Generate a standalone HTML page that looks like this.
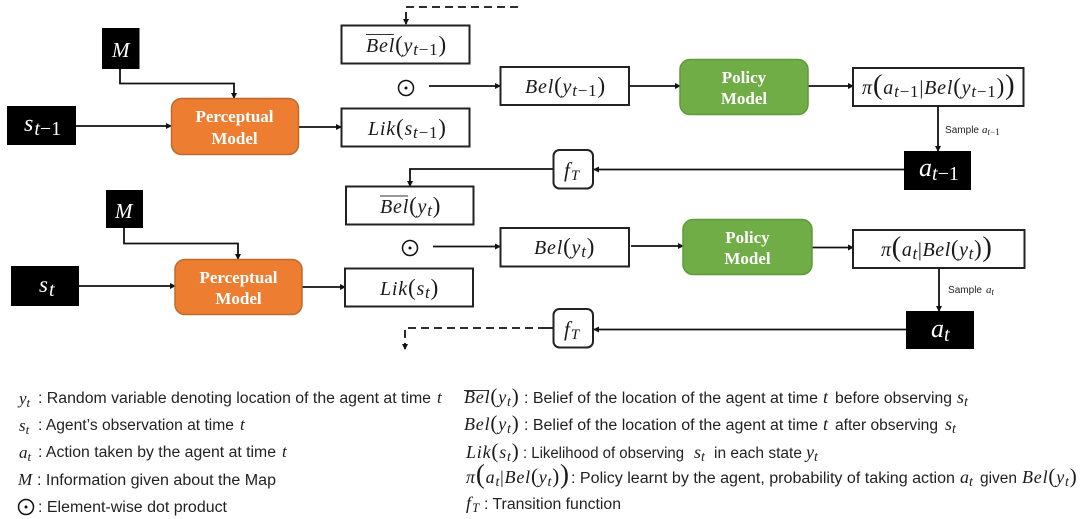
<!DOCTYPE html>
<html><head><meta charset="utf-8"><style>
html,body{margin:0;padding:0;background:#fff;width:1080px;height:519px;overflow:hidden}
svg{display:block;filter:blur(.35px)}
.m{font-family:"Liberation Serif",serif;font-style:italic;fill:#1a1a1a}
.w{fill:#fff}
.t{font-family:"Liberation Sans",sans-serif;font-size:15.5px;fill:#222}
.b{font-family:"Liberation Serif",serif;font-weight:bold;font-size:17px;fill:#fff;text-anchor:middle}
.n{font-style:normal}
.box{fill:#fff;stroke:#222;stroke-width:2}
.ln{fill:none;stroke:#111;stroke-width:1.8}
</style></head><body>
<svg width="1080" height="519" viewBox="0 0 1080 519" xmlns="http://www.w3.org/2000/svg">
<defs><marker id="a" markerWidth="6" markerHeight="6" refX="5" refY="3" orient="auto" markerUnits="userSpaceOnUse"><path d="M0 0L6 3L0 6Z" fill="#111"/></marker></defs>
<rect width="1080" height="519" fill="#fff"/>

<!-- connectors -->
<path class="ln" stroke-dasharray="8 5" d="M518 7H406V20"/>
<path class="ln" marker-end="url(#a)" d="M406 19V24"/>
<path class="ln" marker-end="url(#a)" d="M120 69V83.500H234V98"/>
<path class="ln" marker-end="url(#a)" d="M76 126H171"/>
<path class="ln" marker-end="url(#a)" d="M298 127H341"/>
<path class="ln" marker-end="url(#a)" d="M429 86H500"/>
<path class="ln" marker-end="url(#a)" d="M629 86H680"/>
<path class="ln" marker-end="url(#a)" d="M808 86H853"/>
<path class="ln" marker-end="url(#a)" d="M938 106V151"/>
<path class="ln" marker-end="url(#a)" d="M904 169.500H594"/>
<path class="ln" marker-end="url(#a)" d="M553 169H410V186"/>

<path class="ln" marker-end="url(#a)" d="M124 228V243.500H238V259"/>
<path class="ln" marker-end="url(#a)" d="M79 286H175"/>
<path class="ln" marker-end="url(#a)" d="M302 287H345"/>
<path class="ln" marker-end="url(#a)" d="M433 246.500H500"/>
<path class="ln" marker-end="url(#a)" d="M631 246H683"/>
<path class="ln" marker-end="url(#a)" d="M812 247.500H853"/>
<path class="ln" marker-end="url(#a)" d="M939 269V311"/>
<path class="ln" marker-end="url(#a)" d="M906 329.500H594"/>
<path class="ln" stroke-dasharray="8 5" d="M546 328H405V342"/>
<path class="ln" d="M546 328H553"/>
<path class="ln" marker-end="url(#a)" d="M405 343V349"/>

<!-- black boxes -->
<rect x="102" y="28" width="37.500" height="41" fill="#000"/>
<rect x="7" y="106" width="69" height="39" fill="#000"/>
<rect x="904" y="151" width="67" height="39" fill="#000"/>
<rect x="106" y="190" width="37" height="38" fill="#000"/>
<rect x="11" y="266" width="68" height="40" fill="#000"/>
<rect x="906" y="311" width="68" height="38" fill="#000"/>

<text class="m w" x="112" y="57" font-size="21">M</text>
<text class="m w" x="24" y="131" font-size="24">s<tspan dy="4" dx="1" font-size="20">t</tspan><tspan class="n" font-size="20">−1</tspan></text>
<text class="m w" x="919" y="176" font-size="26">a<tspan dy="4" font-size="20">t</tspan><tspan class="n" font-size="20">−1</tspan></text>
<text class="m w" x="115" y="218" font-size="21">M</text>
<text class="m w" x="39" y="292" font-size="23">s<tspan dy="4" dx="1" font-size="20">t</tspan></text>
<text class="m w" x="931" y="337" font-size="26">a<tspan dy="4" font-size="20">t</tspan></text>

<!-- models -->
<rect x="171.500" y="98.500" width="127" height="56" rx="10" fill="#ED7D31" stroke="#BE6A2E" stroke-width="1.500"/>
<text class="b" x="234.500" y="122">Perceptual</text><text class="b" x="234.500" y="144">Model</text>
<rect x="175" y="259.500" width="127" height="55" rx="10" fill="#ED7D31" stroke="#BE6A2E" stroke-width="1.500"/>
<text class="b" x="238.500" y="283">Perceptual</text><text class="b" x="238.500" y="304">Model</text>
<rect x="680" y="59.500" width="128" height="55" rx="10" fill="#70AD47" stroke="#5F9A3C" stroke-width="1.500"/>
<text class="b" x="744" y="83">Policy</text><text class="b" x="744" y="104">Model</text>
<rect x="683" y="219.500" width="129" height="55" rx="10" fill="#70AD47" stroke="#5F9A3C" stroke-width="1.500"/>
<text class="b" x="747.500" y="243">Policy</text><text class="b" x="747.500" y="264">Model</text>

<!-- white boxes -->
<rect class="box" x="341.500" y="25.500" width="128" height="38"/>
<rect class="box" x="341.500" y="108.500" width="128" height="38"/>
<rect class="box" x="500.500" y="67" width="128.500" height="38"/>
<rect class="box" x="853" y="68" width="170.500" height="38"/>
<rect class="box" x="346" y="186.500" width="127.500" height="38"/>
<rect class="box" x="345" y="268.500" width="128" height="38"/>
<rect class="box" x="500.500" y="228" width="128.500" height="38.500"/>
<rect class="box" x="853" y="230" width="171.500" height="38"/>
<rect class="box" x="553.500" y="150" width="39.500" height="38.500" rx="6"/>
<rect class="box" x="553.500" y="309" width="39.500" height="38.500" rx="6"/>

<!-- box labels -->
<path d="M366 34.500H394M380 196H408" stroke="#333" stroke-width="1" fill="none"/>
<text class="m" x="366" y="52" font-size="20" letter-spacing=".8">Bel<tspan class="n" font-size="23">(</tspan>y<tspan dy="3" font-size="17">t</tspan><tspan class="n" font-size="17">−1</tspan><tspan class="n" dy="-3" font-size="23">)</tspan></text>
<text class="m" x="368" y="135" font-size="20" letter-spacing=".8">Lik<tspan class="n" font-size="23">(</tspan>s<tspan dy="3" font-size="17">t</tspan><tspan class="n" font-size="17">−1</tspan><tspan class="n" dy="-3" font-size="23">)</tspan></text>
<text class="m" x="525" y="93" font-size="20" letter-spacing=".8">Bel<tspan class="n" font-size="23">(</tspan>y<tspan dy="3" font-size="17">t</tspan><tspan class="n" font-size="17">−1</tspan><tspan class="n" dy="-3" font-size="23">)</tspan></text>
<text class="m" x="862" y="94" font-size="20" letter-spacing=".8">π<tspan class="n" font-size="29">(</tspan>a<tspan dy="3" font-size="17">t</tspan><tspan class="n" font-size="17">−1</tspan><tspan class="n" dy="-3">|</tspan>Bel<tspan class="n" font-size="23">(</tspan>y<tspan dy="3" font-size="17">t</tspan><tspan class="n" font-size="17">−1</tspan><tspan class="n" dy="-3" font-size="23">)</tspan><tspan class="n" font-size="29">)</tspan></text>
<text class="m" x="380" y="213" font-size="20" letter-spacing=".8">Bel<tspan class="n" font-size="23">(</tspan>y<tspan dy="3" font-size="17">t</tspan><tspan class="n" dy="-3" font-size="23">)</tspan></text>
<text class="m" x="380" y="295" font-size="20" letter-spacing=".8">Lik<tspan class="n" font-size="23">(</tspan>s<tspan dy="3" font-size="17">t</tspan><tspan class="n" dy="-3" font-size="23">)</tspan></text>
<text class="m" x="534" y="254" font-size="20" letter-spacing=".8">Bel<tspan class="n" font-size="23">(</tspan>y<tspan dy="3" font-size="17">t</tspan><tspan class="n" dy="-3" font-size="23">)</tspan></text>
<text class="m" x="881" y="256" font-size="20" letter-spacing=".6">π<tspan class="n" font-size="29">(</tspan>a<tspan dy="3" font-size="17">t</tspan><tspan class="n" dy="-3">|</tspan>Bel<tspan class="n" font-size="23">(</tspan>y<tspan dy="3" font-size="17">t</tspan><tspan class="n" dy="-3" font-size="23">)</tspan><tspan class="n" font-size="29">)</tspan></text>
<text class="m" x="564" y="177" font-size="21">f<tspan dy="3" dx="1" font-size="15">T</tspan></text>
<text class="m" x="564" y="336" font-size="21">f<tspan dy="3" dx="1" font-size="15">T</tspan></text>

<!-- odot -->
<circle cx="406" cy="88" r="7.500" fill="none" stroke="#111" stroke-width="1.500"/><circle cx="406" cy="88" r="1.500" fill="#111"/>
<circle cx="410" cy="248" r="7.500" fill="none" stroke="#111" stroke-width="1.500"/><circle cx="410" cy="248" r="1.500" fill="#111"/>

<!-- sample labels -->
<text class="t" x="945" y="133" style="font-size:10px" textLength="34" lengthAdjust="spacingAndGlyphs">Sample</text>
<text class="m" x="982" y="133" font-size="11">a<tspan dy="2" font-size="9">t</tspan><tspan class="n" font-size="9">−1</tspan></text>
<text class="t" x="948" y="293" style="font-size:10px" textLength="34" lengthAdjust="spacingAndGlyphs">Sample</text>
<text class="m" x="986" y="293" font-size="11">a<tspan dy="2" font-size="9">t</tspan></text>

<!-- legend left -->
<text class="m" x="19" y="404" font-size="17">y<tspan dy="3" font-size="13">t</tspan></text>
<text class="t" x="38" y="403" textLength="393" lengthAdjust="spacingAndGlyphs">: Random variable denoting location of the agent at time</text>
<text class="m" x="437" y="403" font-size="17">t</text>
<text class="m" x="19" y="431" font-size="17">s<tspan dy="3" font-size="13">t</tspan></text>
<text class="t" x="38" y="430" textLength="196" lengthAdjust="spacingAndGlyphs">: Agent’s observation at time</text>
<text class="m" x="240" y="430" font-size="17">t</text>
<text class="m" x="19" y="458" font-size="17">a<tspan dy="3" font-size="13">t</tspan></text>
<text class="t" x="38" y="457" textLength="238" lengthAdjust="spacingAndGlyphs">: Action taken by the agent at time</text>
<text class="m" x="282" y="457" font-size="17">t</text>
<text class="m" x="18" y="485" font-size="17">M</text>
<text class="t" x="37" y="485" textLength="239" lengthAdjust="spacingAndGlyphs">: Information given about the Map</text>
<circle cx="26" cy="507" r="7.500" fill="none" stroke="#111" stroke-width="1.500"/><circle cx="26" cy="507" r="1.500" fill="#111"/>
<text class="t" x="38" y="512" textLength="189" lengthAdjust="spacingAndGlyphs">: Element-wise dot product</text>

<!-- legend right -->
<path d="M464 390.500H489" stroke="#333" stroke-width="1"/>
<text class="m" x="464" y="403" font-size="18" letter-spacing=".8">Bel<tspan class="n" font-size="21">(</tspan>y<tspan dy="3" font-size="14">t</tspan><tspan class="n" dy="-3" font-size="21">)</tspan></text>
<text class="t" x="524" y="403" textLength="294" lengthAdjust="spacingAndGlyphs">: Belief of the location of the agent at time</text>
<text class="m" x="823" y="403" font-size="18">t</text>
<text class="t" x="835" y="403" textLength="117" lengthAdjust="spacingAndGlyphs">before observing</text>
<text class="m" x="957" y="403" font-size="18">s<tspan dy="3" font-size="14">t</tspan></text>

<text class="m" x="464" y="430" font-size="18" letter-spacing=".8">Bel<tspan class="n" font-size="21">(</tspan>y<tspan dy="3" font-size="14">t</tspan><tspan class="n" dy="-3" font-size="21">)</tspan></text>
<text class="t" x="524" y="430" textLength="294" lengthAdjust="spacingAndGlyphs">: Belief of the location of the agent at time</text>
<text class="m" x="823" y="430" font-size="18">t</text>
<text class="t" x="835" y="430" textLength="103" lengthAdjust="spacingAndGlyphs">after observing</text>
<text class="m" x="945" y="430" font-size="18">s<tspan dy="3" font-size="14">t</tspan></text>

<text class="m" x="466" y="458" font-size="18" letter-spacing=".8">Lik<tspan class="n" font-size="21">(</tspan>s<tspan dy="3" font-size="14">t</tspan><tspan class="n" dy="-3" font-size="21">)</tspan></text>
<text class="t" x="523" y="458" textLength="161" lengthAdjust="spacingAndGlyphs">: Likelihood of observing</text>
<text class="m" x="694" y="458" font-size="18">s<tspan dy="3" font-size="14">t</tspan></text>
<text class="t" x="714" y="458" textLength="88" lengthAdjust="spacingAndGlyphs">in each state</text>
<text class="m" x="806" y="458" font-size="18">y<tspan dy="3" font-size="14">t</tspan></text>

<text class="m" x="466" y="483" font-size="18" letter-spacing=".8">π<tspan class="n" font-size="27">(</tspan>a<tspan dy="3" font-size="14">t</tspan><tspan class="n" dy="-3">|</tspan>Bel<tspan class="n" font-size="21">(</tspan>y<tspan dy="3" font-size="14">t</tspan><tspan class="n" dy="-3" font-size="21">)</tspan><tspan class="n" font-size="27">)</tspan></text>
<text class="t" x="571" y="483" textLength="384" lengthAdjust="spacingAndGlyphs">: Policy learnt by the agent, probability of taking action</text>
<text class="m" x="960" y="483" font-size="18">a<tspan dy="3" font-size="14">t</tspan></text>
<text class="t" x="980" y="483" textLength="37" lengthAdjust="spacingAndGlyphs">given</text>
<text class="m" x="1022" y="483" font-size="18" letter-spacing=".8">Bel<tspan class="n" font-size="21">(</tspan>y<tspan dy="3" font-size="14">t</tspan><tspan class="n" dy="-3" font-size="21">)</tspan></text>

<text class="m" x="466" y="509" font-size="18">f<tspan dy="3" dx="1" font-size="13">T</tspan></text>
<text class="t" x="484" y="509" textLength="137" lengthAdjust="spacingAndGlyphs">: Transition function</text>
</svg>
</body></html>
